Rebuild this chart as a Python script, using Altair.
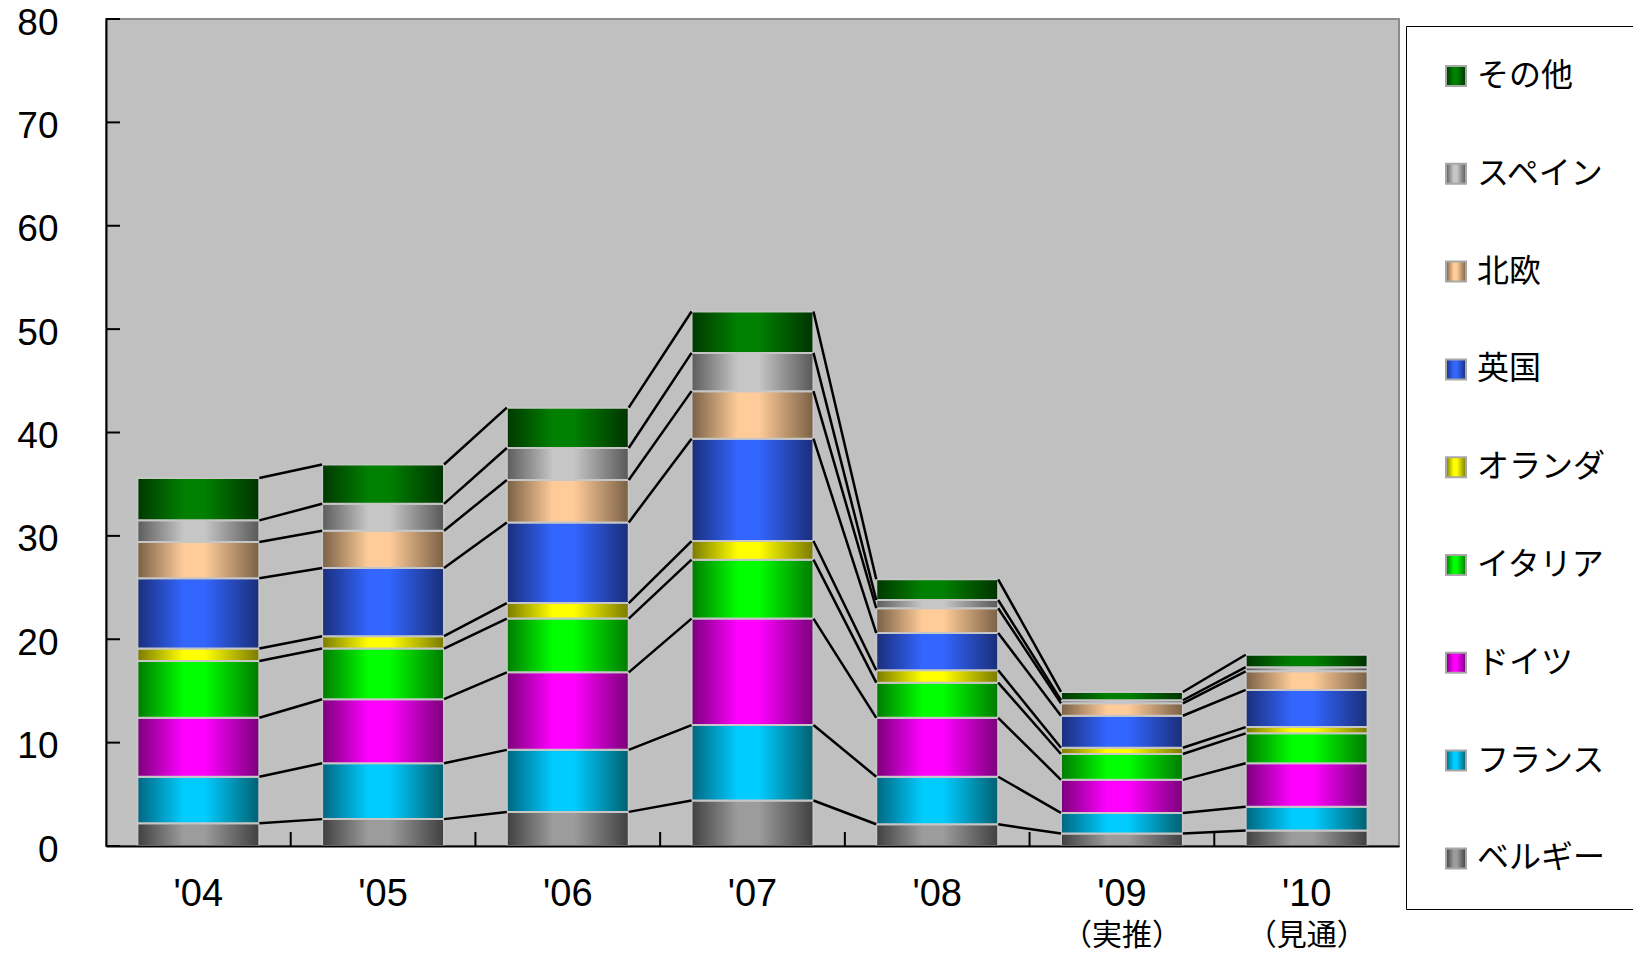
import altair as alt
import pandas as pd

# ---------------- data ----------------
years = ["'04", "'05", "'06", "'07", "'08", "'09", "'10"]
notes = ["", "", "", "", "", "（実推）", "（見通）"]
stack_order = ["ベルギー", "フランス", "ドイツ", "イタリア", "オランダ", "英国", "北欧", "スペイン", "その他"]

belgium = [2.2, 2.6, 3.3, 4.4, 2.1, 1.2, 1.5]
france = [4.5, 5.4, 6.0, 7.3, 4.6, 2.0, 2.3]
germany = [5.7, 6.2, 7.5, 10.3, 5.7, 3.2, 4.2]
italy = [5.5, 4.9, 5.2, 5.7, 3.4, 2.5, 2.9]
netherlands = [1.2, 1.2, 1.5, 1.8, 1.2, 0.6, 0.6]
uk = [6.8, 6.6, 7.8, 9.9, 3.6, 3.1, 3.6]
nordic = [3.5, 3.6, 4.1, 4.6, 2.4, 1.2, 1.8]
spain = [2.1, 2.6, 3.1, 3.7, 0.8, 0.3, 0.4]
other = [4.1, 3.8, 3.9, 4.0, 2.0, 0.8, 1.2]

y_ticks = [0, 10, 20, 30, 40, 50, 60, 70, 80]

series = [belgium, france, germany, italy, netherlands, uk, nordic, spain, other]
legend_order = list(reversed(stack_order))

# ---------------- styles ----------------
# (left edge, centre, right edge) of the horizontal gradient
grad_colors = {
    "その他": ("#003800", "#008000", "#003300"),
    "スペイン": ("#5c5c5c", "#c6c6c6", "#585858"),
    "北欧": ("#7a6045", "#ffcc99", "#7a6045"),
    "英国": ("#1a2e7a", "#3366ff", "#1a2e78"),
    "オランダ": ("#7a7a00", "#ffff00", "#7a7a00"),
    "イタリア": ("#007a00", "#00ff00", "#007a00"),
    "ドイツ": ("#7a007a", "#ff00ff", "#7a007a"),
    "フランス": ("#006680", "#00ccff", "#006070"),
    "ベルギー": ("#404040", "#9c9c9c", "#404040"),
}


def grad(c):
    l, m, r = grad_colors[c]
    return {
        "expr": "{gradient:'linear',x1:0,y1:0,x2:1,y2:0,stops:["
        f"{{offset:0,color:'{l}'}},{{offset:0.38,color:'{m}'}},"
        f"{{offset:0.55,color:'{m}'}},{{offset:1,color:'{r}'}}]}}"
    }


W, H = 1293, 827
BAR_FRAC = 0.66
half_bar_px = BAR_FRAC * (W / len(years)) / 2

NUM_FONT = "'Liberation Sans', 'Noto Sans CJK JP'"
JP_FONT = "'Noto Sans CJK JP'"

# ---------------- tables ----------------
rows = []
tops = []
for i, yr in enumerate(years):
    cum = 0.0
    t = []
    for c, vals in zip(stack_order, series):
        rows.append({"year": yr, "country": c, "y0": cum, "y1": cum + vals[i]})
        cum += vals[i]
        t.append(cum)
    tops.append(t)
bars_df = pd.DataFrame(rows)

conn = []
for i in range(len(years) - 1):
    for k in range(len(stack_order)):
        conn.append({"from": years[i], "to": years[i + 1],
                     "ya": tops[i][k], "yb": tops[i + 1][k]})
conn_df = pd.DataFrame(conn)

ytick_df = pd.DataFrame({"v": y_ticks})
xtick_df = pd.DataFrame({"year": years[1:]})
note_df = pd.DataFrame({"year": years, "note": notes})
note_df = note_df[note_df["note"] != ""]

x_scale = alt.Scale(domain=years, paddingInner=0, paddingOuter=0, round=False)
y_scale = alt.Scale(domain=[0, 80], nice=False, zero=True)

x_axis = alt.Axis(title=None, ticks=False, domainColor="black", domainWidth=2,
                  labelFont=NUM_FONT, labelFontSize=38, labelColor="black",
                  labelPadding=29, labelAngle=0, zindex=1, grid=False)
y_axis = alt.Axis(title=None, ticks=False, values=y_ticks, domainColor="black",
                  domainWidth=2, labelFont=NUM_FONT, labelFontSize=37,
                  labelColor="black", labelPadding=48, labelOffset=4,
                  grid=False, zindex=1)

bars = alt.Chart(bars_df).mark_bar(
    stroke="#C6C6C6", strokeWidth=2, width=alt.RelativeBandSize(BAR_FRAC)
).encode(
    x=alt.X("year:N", scale=x_scale, axis=x_axis),
    y=alt.Y("y0:Q", scale=y_scale, axis=y_axis),
    y2="y1:Q",
    color=alt.Color(
        "country:N",
        title=None,
        scale=alt.Scale(domain=legend_order, range=[grad(c) for c in legend_order]),
        legend=alt.Legend(
            orient="none", legendX=1300, legendY=7, padding=34,
            fillColor="white", strokeColor="black",
            symbolType="square", symbolSize=400, symbolStrokeColor="#a8a8a8",
            symbolStrokeWidth=2, symbolOpacity=1,
            labelFont=JP_FONT, labelFontSize=32, labelColor="black",
            labelOffset=5, rowPadding=65.8, labelLimit=300,
        ),
    ),
)

connectors = alt.Chart(conn_df).mark_rule(
    color="black", strokeWidth=2.5, xOffset=half_bar_px, x2Offset=-half_bar_px
).encode(
    x=alt.X("from:N", scale=x_scale, axis=x_axis),
    x2="to:N",
    y=alt.Y("ya:Q", scale=y_scale, axis=y_axis),
    y2="yb:Q",
)

yticks = alt.Chart(ytick_df).mark_rule(color="black", strokeWidth=2).encode(
    y=alt.Y("v:Q", scale=y_scale, axis=y_axis),
    x=alt.value(0),
    x2=alt.value(14),
)

xticks = alt.Chart(xtick_df).mark_rule(color="black", strokeWidth=2).encode(
    x=alt.X("year:N", scale=x_scale, axis=x_axis, bandPosition=0),
    y=alt.value(H),
    y2=alt.value(H - 14),
)

note_text = alt.Chart(note_df).mark_text(
    font=JP_FONT, fontSize=30, color="black", baseline="alphabetic", align="center"
).encode(
    x=alt.X("year:N", scale=x_scale, axis=x_axis),
    y=alt.value(H + 99),
    text="note:N",
)

chart = alt.layer(bars, connectors, yticks, xticks, note_text).properties(
    width=W, height=H,
    padding={"left": 98, "top": 11, "right": 234, "bottom": 105},
    autosize=alt.AutoSizeParams(type="none"),
).configure_view(
    fill="#C0C0C0", stroke="#8c8c8c", strokeWidth=2
)

chart.save("out.html", embed_options={"renderer": "svg", "actions": False})
